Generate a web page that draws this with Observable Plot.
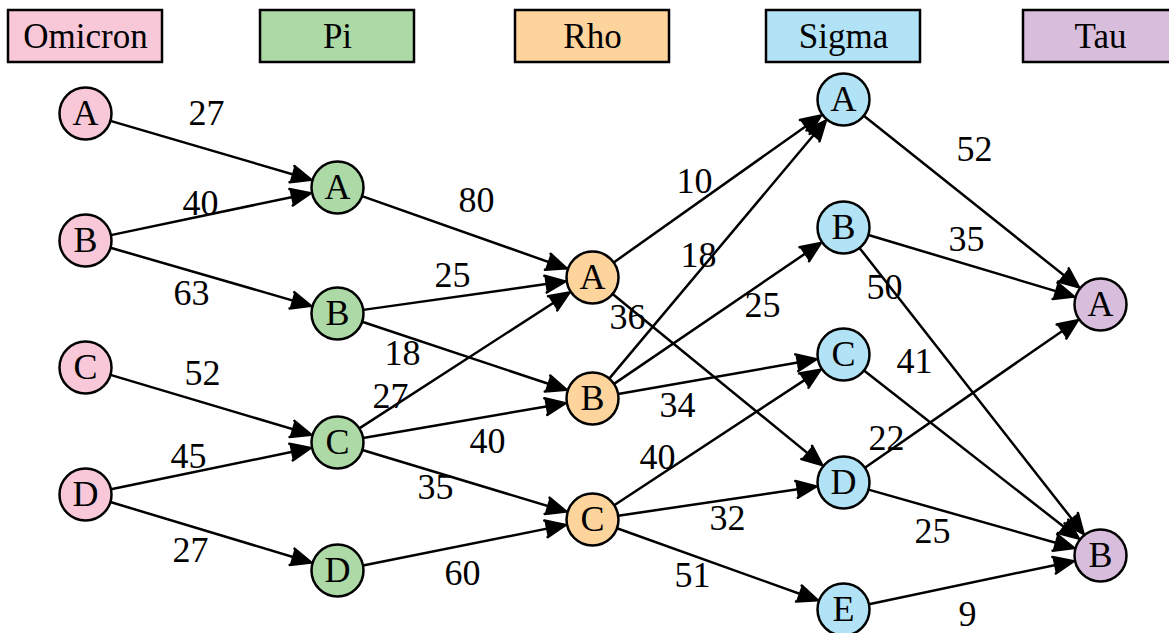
<!DOCTYPE html>
<html>
<head>
<meta charset="utf-8">
<script src="https://cdn.jsdelivr.net/npm/d3@7"></script>
<script src="https://cdn.jsdelivr.net/npm/@observablehq/plot@0.6"></script>
<style>
  html, body { margin: 0; padding: 0; background: white; overflow: hidden; }
  #chart svg { display: block; }
</style>
</head>
<body>
<div id="chart"></div>
<script>
// ---- Data (layout units) ----
const columns = ["Omicron", "Pi", "Rho", "Sigma", "Tau"];
const columnX = [85, 337, 592, 843, 1100];
const columnFill = ["#f8c8d8", "#acd9a6", "#fed49d", "#b2e2f5", "#d8bedc"];
const headerTop = 10;
const headerBottom = 62;
const nodeNames = [
  ["A", "B", "C", "D"],
  ["A", "B", "C", "D"],
  ["A", "B", "C"],
  ["A", "B", "C", "D", "E"],
  ["A", "B"]
];
const nodeY = [
  [113, 240, 367, 494],
  [187, 313, 442, 570],
  [277, 398, 519],
  [99, 227, 354, 482, 609],
  [304, 555]
];
const edgeSource = [
  "Omicron A", "Omicron B", "Omicron B", "Omicron C", "Omicron D", "Omicron D",
  "Pi A", "Pi B", "Pi B", "Pi C", "Pi C", "Pi C", "Pi D",
  "Rho A", "Rho A", "Rho B", "Rho B", "Rho B", "Rho C", "Rho C", "Rho C",
  "Sigma A", "Sigma B", "Sigma B", "Sigma C", "Sigma D", "Sigma D", "Sigma E"
];
const edgeTarget = [
  "Pi A", "Pi A", "Pi B", "Pi C", "Pi C", "Pi D",
  "Rho A", "Rho A", "Rho B", "Rho A", "Rho B", "Rho C", "Rho C",
  "Sigma A", "Sigma D", "Sigma A", "Sigma B", "Sigma C", "Sigma C", "Sigma D", "Sigma E",
  "Tau A", "Tau A", "Tau B", "Tau B", "Tau A", "Tau B", "Tau B"
];
const edgeWeight = [
  27, 40, 63, 52, 45, 27,
  80, 25, 18, 27, 40, 35, 60,
  10, 36, 18, 25, 34, 40, 32, 51,
  52, 35, 50, 41, 22, 25, 9
];
const labelX = [
  206, 200, 191, 202, 188, 190,
  476, 452, 402, 390, 487, 435, 462,
  694, 627, 698, 762, 677, 657, 727, 692,
  974, 966, 884, 914, 886, 932, 967
];
const labelY = [
  113, 203, 293, 373, 456, 550,
  200, 275, 353, 396, 441, 487, 573,
  181, 317, 255, 305, 405, 457, 518, 575,
  149, 239, 287, 361, 438, 531, 614
];

// ---- Tables built from the arrays ----
const headers = columns.map((name, i) => ({name, x: columnX[i], fill: columnFill[i]}));
const nodes = [];
columns.forEach((col, i) => {
  nodeNames[i].forEach((n, j) => {
    nodes.push({id: col + " " + n, label: n, x: columnX[i], y: nodeY[i][j], fill: columnFill[i]});
  });
});
const nodeById = new Map(nodes.map(d => [d.id, d]));
const edges = edgeSource.map((s, i) => ({
  source: nodeById.get(s),
  target: nodeById.get(edgeTarget[i]),
  weight: edgeWeight[i],
  lx: labelX[i],
  ly: labelY[i]
}));

const W = 1169, H = 633;
const boxHalf = 77;
const R = 26;
const font = "'Liberation Serif', 'Times New Roman', Times, serif";
const textStyle = {fontSize: 35, fontFamily: font, fill: "black"};
const bigText = {fontSize: 36, fontFamily: font, fill: "black"};

const chart = Plot.plot({
  width: W,
  height: H,
  margin: 0,
  x: {type: "linear", domain: [0, W], range: [0, W], axis: null},
  y: {type: "linear", domain: [0, H], range: [0, H], axis: null},
  style: {fontFamily: font, background: "white", color: "black", overflow: "hidden"},
  marks: [
    Plot.rect(headers, {
      x1: d => d.x - boxHalf, x2: d => d.x + boxHalf,
      y1: headerTop, y2: headerBottom,
      fill: d => d.fill, stroke: "black", strokeWidth: 2.5
    }),
    Plot.text(headers, {
      x: "x", y: (headerTop + headerBottom) / 2, text: "name", ...textStyle
    }),
    Plot.arrow(edges, {
      x1: d => d.source.x, y1: d => d.source.y,
      x2: d => d.target.x, y2: d => d.target.y,
      stroke: "black", fill: "black", strokeWidth: 2.5,
      headLength: 13, headAngle: 46,
      insetStart: R, insetEnd: R + 1.5
    }),
    Plot.dot(nodes, {
      x: "x", y: "y", r: R,
      fill: d => d.fill, stroke: "black", strokeWidth: 2.5
    }),
    Plot.text(nodes, {x: "x", y: "y", text: "label", ...bigText}),
    Plot.text(edges, {x: "lx", y: "ly", text: d => String(d.weight), ...bigText})
  ]
});
document.getElementById("chart").appendChild(chart);
</script>
</body>
</html>
